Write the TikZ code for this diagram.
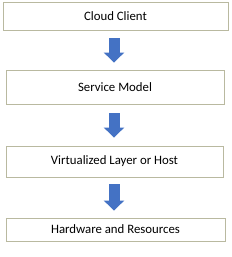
\documentclass[tikz,border=0pt]{standalone}
\usepackage{fontspec}
\setmainfont{Carlito}
\usepackage{xcolor}
\usetikzlibrary{arrows.meta}

\definecolor{framegray}{RGB}{185,185,160}
\definecolor{flowblue}{RGB}{68,114,196}

\begin{document}
\begin{tikzpicture}[
  x=1pt, y=-1pt,
  every node/.style={font=\fontsize{12.8}{14}\selectfont},
  layer/.style={draw=framegray, line width=0.9pt, fill=white, align=center, inner sep=0pt},
  flow/.style={-{Triangle[width=20pt, length=10pt]}, draw=flowblue, fill=flowblue, line width=11pt},
]

\useasboundingbox[fill=white] (0,0) rectangle (231,257);

\node[layer, minimum width=225pt, minimum height=28pt] (client) at (115.5,16) {Cloud Client};
\node[layer, minimum width=218pt, minimum height=34pt] (service) at (115,87) {Service Model};
\node[layer, minimum width=217pt, minimum height=31pt] (virtual) at (114.5,161.5) {Virtualized Layer or Host};
\node[layer, minimum width=219pt, minimum height=23pt] (hardware) at (115.5,229.5) {Hardware and Resources};

% downward flow between layers
\draw[flow, shorten <=8pt, shorten >=7pt] (client.south -| 114,0) -- (service.north -| 114,0);
\draw[flow, shorten <=9pt, shorten >=8pt] (service.south -| 114,0) -- (virtual.north -| 114,0);
\draw[flow, shorten <=7pt, shorten >=7pt] (virtual.south -| 114,0) -- (hardware.north -| 114,0);

\end{tikzpicture}
\end{document}
